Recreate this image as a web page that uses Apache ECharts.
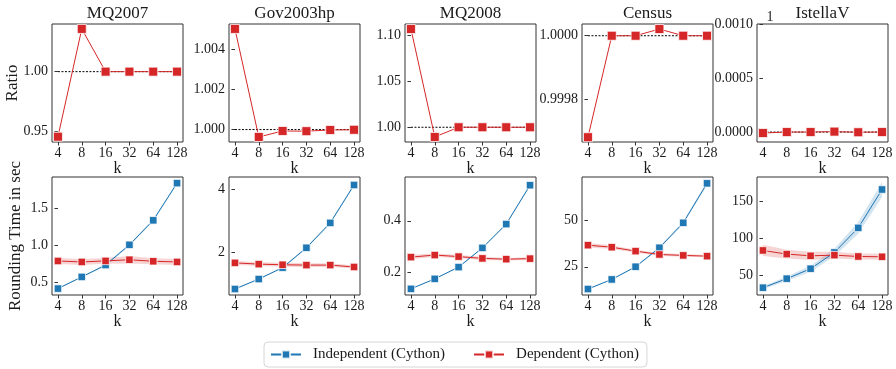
<!DOCTYPE html>
<html>
<head>
<meta charset="utf-8">
<script src="https://cdn.jsdelivr.net/npm/echarts@6/dist/echarts.min.js"></script>
<style>
  html, body { margin: 0; padding: 0; background: #fff; }
  #chart { width: 896px; height: 369px; }
</style>
</head>
<body>
<div id="chart"></div>
<script>
// ---- data ----
const ks = [4, 8, 16, 32, 64, 128];
const datasets = ['MQ2007', 'Gov2003hp', 'MQ2008', 'Census', 'IstellaV'];

// score ratio of dependent rounding per k
const ratioMQ2007    = [0.9458, 1.0356, 1.0000, 1.0000, 1.0000, 1.0000];
const ratioGov2003hp = [1.00502, 0.99963, 0.99993, 0.99992, 0.99998, 0.99999];
const ratioMQ2008    = [1.1073, 0.9894, 1.0000, 1.0000, 1.0000, 1.0000];
const ratioCensus    = [0.999682, 1.0000, 1.0000, 1.000021, 1.0000, 1.0000];
const ratioIstellaV  = [-0.000009, 0.0000, 0.0000, 0.000004, -0.000002, 0.0000];

// rounding time in seconds (mean) and confidence half-widths
const indepMQ2007    = [0.415, 0.573, 0.734, 1.008, 1.34, 1.844];
const depMQ2007      = [0.789, 0.776, 0.790, 0.806, 0.785, 0.776];
const indepCiMQ2007  = [0.01, 0.01, 0.015, 0.015, 0.015, 0.02];
const depCiMQ2007    = [0.04, 0.04, 0.04, 0.05, 0.04, 0.04];

const indepGov2003hp   = [0.846, 1.16, 1.52, 2.145, 2.93, 4.125];
const depGov2003hp     = [1.67, 1.63, 1.61, 1.60, 1.60, 1.54];
const indepCiGov2003hp = [0.02, 0.02, 0.03, 0.03, 0.04, 0.04];
const depCiGov2003hp   = [0.06, 0.06, 0.06, 0.06, 0.06, 0.05];

const indepMQ2008    = [0.134, 0.173, 0.219, 0.294, 0.387, 0.539];
const depMQ2008      = [0.258, 0.266, 0.260, 0.253, 0.250, 0.252];
const indepCiMQ2008  = [0.002, 0.002, 0.003, 0.003, 0.004, 0.005];
const depCiMQ2008    = [0.008, 0.007, 0.006, 0.006, 0.005, 0.005];

const indepCensus    = [13.05, 18.2, 25.0, 35.2, 48.6, 69.8];
const depCensus      = [36.6, 35.5, 33.4, 31.6, 31.1, 30.7];
const indepCiCensus  = [0.3, 0.3, 0.4, 0.6, 0.8, 1.0];
const depCiCensus    = [1.2, 1.0, 0.8, 0.8, 0.7, 0.6];

const indepIstellaV   = [33.9, 46.0, 59.4, 81.2, 114.2, 165.7];
const depIstellaV     = [83.9, 79.0, 76.7, 77.6, 75.8, 75.4];
const indepCiIstellaV = [2, 3, 4, 5, 8, 10];
const depCiIstellaV   = [7.5, 6, 5.5, 4.5, 4, 4];

// y tick labels
const ratioTicks = [[0.95, 1.00], [1.000, 1.002, 1.004], [1.00, 1.05, 1.10], [0.9998, 1.0000], [0.0000, 0.0005, 0.0010]];
const timeTicks  = [[0.5, 1.0, 1.5], [2, 4], [0.2, 0.4], [25, 50], [50, 100, 150]];

const ratios = [ratioMQ2007, ratioGov2003hp, ratioMQ2008, ratioCensus, ratioIstellaV];
const indeps = [indepMQ2007, indepGov2003hp, indepMQ2008, indepCensus, indepIstellaV];
const deps   = [depMQ2007, depGov2003hp, depMQ2008, depCensus, depIstellaV];
const indepCis = [indepCiMQ2007, indepCiGov2003hp, indepCiMQ2008, indepCiCensus, indepCiIstellaV];
const depCis   = [depCiMQ2007, depCiGov2003hp, depCiMQ2008, depCiCensus, depCiIstellaV];
const ratioRefs = [1, 1, 1, 1, 0];

// ---- layout / style ----
const FONT = '"Liberation Serif", "DejaVu Serif", serif';
const TXT = '#1a1a1a';
const BLUE = '#1f77b4';
const RED = '#d62728';
const IND = 'Independent (Cython)';
const DEP = 'Dependent (Cython)';
const LEFTS = [52, 229, 405, 582, 757];
const W = 131, H = 118, TOP_ROW = 24, BOTTOM_ROW = 177;
const ratioRange = [[0.9414, 1.0397], [0.99938, 1.005265], [0.9839, 1.1128], [0.999667, 1.0000368], [-0.0000921, 0.0010]];
const timeRange  = [[0.328, 1.927], [0.657, 4.377], [0.110, 0.571], [9.84, 73.2], [24.1, 182.5]];
const ratioDp = [2, 3, 2, 4, 4];
const timeDp  = [1, 0, 1, 0, 0];

const idx = ks.map((_, i) => i);
const grid = [], xAxis = [], yAxis = [], series = [];

function addAxes(g, left, top, range, ticks, dp) {
  grid.push({ left: left, top: top, width: W, height: H, show: true,
              borderColor: '#333', borderWidth: 1, backgroundColor: '#fff', containLabel: false });
  xAxis.push({
    gridIndex: g, type: 'value', min: -0.25, max: 5.25,
    axisLine: { show: false }, splitLine: { show: false },
    axisTick: { show: true, length: 3.5, customValues: idx, lineStyle: { color: '#333', width: 1 } },
    axisLabel: { customValues: idx, formatter: v => String(ks[Math.round(v)]),
                 fontFamily: FONT, fontSize: 14, color: TXT, margin: 4 },
    name: 'k', nameLocation: 'middle', nameGap: 13,
    nameTextStyle: { fontFamily: FONT, fontSize: 16, color: TXT }
  });
  yAxis.push({
    gridIndex: g, type: 'value', min: range[0], max: range[1],
    axisLine: { show: false }, splitLine: { show: false },
    axisTick: { show: true, length: 3.5, customValues: ticks, lineStyle: { color: '#333', width: 1 } },
    axisLabel: { customValues: ticks, formatter: v => Number(v).toFixed(dp),
                 fontFamily: FONT, fontSize: 14, color: TXT, margin: 4 }
  });
}

function band(g, vals, ci, color) {
  return {
    type: 'custom', xAxisIndex: g, yAxisIndex: g, silent: true, z: 1, clip: true,
    data: vals.map((v, i) => [i, v]),
    renderItem: (params, api) => {
      if (params.dataIndex !== 0) return null;
      const lower = vals.map((v, i) => api.coord([i, v - ci[i]]));
      const upper = vals.map((v, i) => api.coord([i, v + ci[i]])).reverse();
      return { type: 'polygon', shape: { points: lower.concat(upper) },
               style: { fill: color, opacity: 0.2 } };
    }
  };
}

function line(g, name, vals, color, size) {
  return {
    type: 'line', name: name, xAxisIndex: g, yAxisIndex: g, z: 3,
    data: vals.map((v, i) => [i, v]),
    symbol: 'rect', symbolSize: size, showAllSymbol: true,
    lineStyle: { color: color, width: 1 },
    itemStyle: { color: color, borderColor: 'rgba(255,255,255,0.75)', borderWidth: 1 },
    emphasis: { disabled: true }
  };
}

// top row: ratio panels
for (let p = 0; p < 5; p++) {
  const g = p;
  addAxes(g, LEFTS[p], TOP_ROW, ratioRange[p], ratioTicks[p], ratioDp[p]);
  series.push({
    type: 'line', xAxisIndex: g, yAxisIndex: g, z: 2, symbol: 'none', silent: true,
    data: [[0, ratioRefs[p]], [5, ratioRefs[p]]],
    lineStyle: { color: '#000', width: 1, type: [2, 1.5] }
  });
  series.push(line(g, DEP, ratios[p], RED, 9));
}

// bottom row: rounding time panels
for (let p = 0; p < 5; p++) {
  const g = 5 + p;
  addAxes(g, LEFTS[p], BOTTOM_ROW, timeRange[p], timeTicks[p], timeDp[p]);
  series.push(band(g, indeps[p], indepCis[p], BLUE));
  series.push(band(g, deps[p], depCis[p], RED));
  series.push(line(g, IND, indeps[p], BLUE, 7.5));
  series.push(line(g, DEP, deps[p], RED, 7.5));
}

const titleStyle = { fontFamily: FONT, fontSize: 17, fill: TXT };
const graphic = datasets.map((name, p) => ({
  type: 'text', x: LEFTS[p] + W / 2, y: 14,
  style: Object.assign({ text: name, align: 'center', verticalAlign: 'middle' }, titleStyle)
}));
graphic.push({
  type: 'text', x: 13, y: 83, rotation: Math.PI / 2,
  style: Object.assign({ text: 'Ratio', align: 'center', verticalAlign: 'middle' }, titleStyle)
});
graphic.push({
  type: 'text', x: 16, y: 236, rotation: Math.PI / 2,
  style: Object.assign({ text: 'Rounding Time in sec', align: 'center', verticalAlign: 'middle' }, titleStyle)
});
graphic.push({
  type: 'text', x: 770, y: 17,
  style: { text: '1', align: 'center', verticalAlign: 'middle', fontFamily: FONT, fontSize: 14, fill: TXT }
});

const chart = echarts.init(document.getElementById('chart'), null, { renderer: 'canvas' });
chart.setOption({
  animation: false,
  backgroundColor: '#fff',
  grid: grid, xAxis: xAxis, yAxis: yAxis, series: series, graphic: graphic,
  legend: {
    data: [IND, DEP], left: 264, top: 342,
    itemWidth: 30, itemHeight: 10, itemGap: 28,
    padding: [5, 8, 5, 6], borderColor: '#d6d6d6', borderWidth: 1, borderRadius: 4,
    textStyle: { fontFamily: FONT, fontSize: 15, color: TXT, padding: [0, 0, 0, 7] },
    selectedMode: false
  }
});
</script>
</body>
</html>
